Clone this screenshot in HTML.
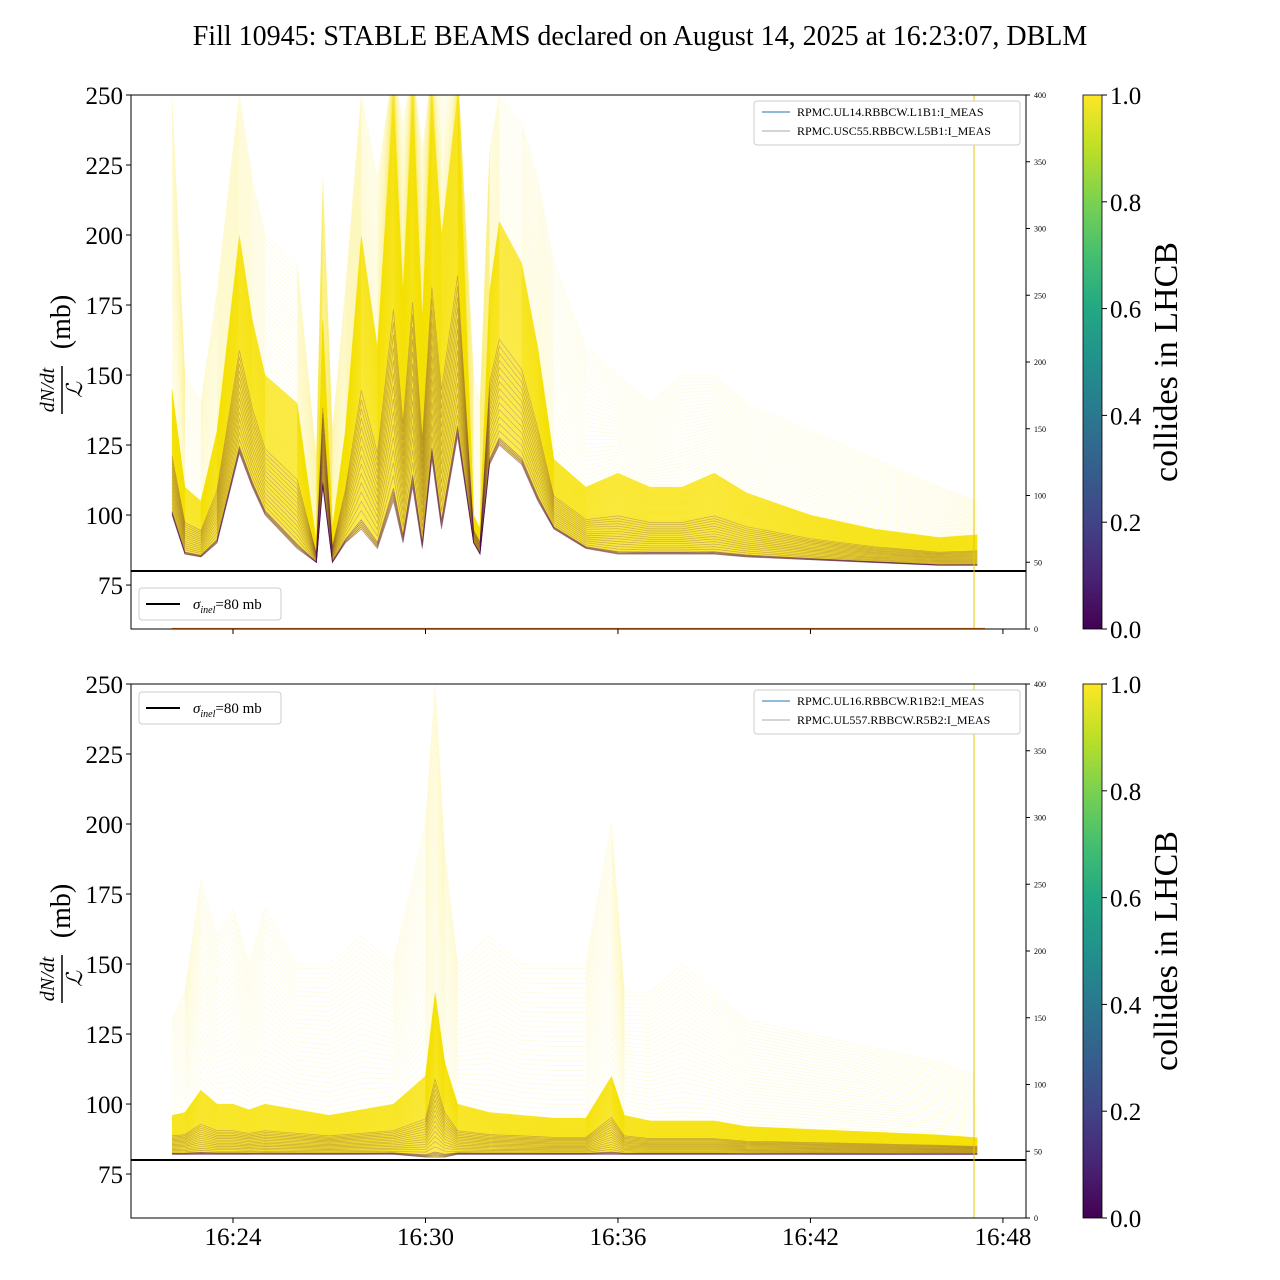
<!DOCTYPE html>
<html><head><meta charset="utf-8">
<style>
html,body{margin:0;padding:0;background:#fff;}
svg{display:block;font-family:"Liberation Serif",serif;}
</style></head>
<body>
<svg id="chart" width="1280" height="1280" viewBox="0 0 1280 1280">
  <defs>
    <linearGradient id="viridis" x1="0" y1="1" x2="0" y2="0">
      <stop offset="0" stop-color="#440154"/><stop offset="0.1" stop-color="#482475"/>
      <stop offset="0.2" stop-color="#414487"/><stop offset="0.3" stop-color="#355f8d"/>
      <stop offset="0.4" stop-color="#2a788e"/><stop offset="0.5" stop-color="#21918c"/>
      <stop offset="0.6" stop-color="#22a884"/><stop offset="0.7" stop-color="#44bf70"/>
      <stop offset="0.8" stop-color="#7ad151"/><stop offset="0.9" stop-color="#bddf26"/>
      <stop offset="1" stop-color="#fde725"/>
    </linearGradient>
    <clipPath id="clipTop"><rect x="131" y="95" width="895" height="534"/></clipPath>
    <clipPath id="clipBot"><rect x="131" y="684" width="895" height="533"/></clipPath>
  </defs>
  <text x="640" y="45" font-size="28" text-anchor="middle">Fill 10945: STABLE BEAMS declared on August 14, 2025 at 16:23:07, DBLM</text>
  <g id="panels"></g>
</svg>
<script>
// ---- data (minutes after 16:22:00) ----
const topTimes = [0.1,0.5,1.0,1.5,2.2,2.6,3.0,4.0,4.6,4.8,5.1,5.5,6.0,6.5,7.0,7.3,7.6,7.9,8.2,8.5,9.0,9.5,9.7,10.0,10.3,11.0,11.5,12.0,13.0,14.0,15.0,16.0,17.0,18.0,20.0,22.0,24.0,25.2];
const topLow   = [100,86,85,90,122,110,100,88,83,110,83,90,95,88,105,90,110,88,120,95,128,90,86,118,125,118,105,95,88,86,86,86,86,85,84,83,82,82];
const topMid   = [145,110,105,130,200,170,150,140,90,170,95,130,200,160,250,180,250,170,250,200,250,100,95,180,205,190,160,120,110,115,110,110,115,108,100,95,92,93];
const topHigh  = [250,150,140,180,250,220,200,190,120,220,130,180,250,220,260,240,260,230,260,250,260,150,140,230,250,240,220,190,160,150,140,150,150,140,130,120,110,105];

const botTimes = [0.1,0.5,1.0,1.5,2.0,2.5,3.0,4.0,5.0,6.0,7.0,8.0,8.3,8.6,9.0,10.0,11.0,12.0,13.0,13.8,14.2,15.0,16.0,17.0,18.0,20.0,22.0,24.0,25.2];
const botLow   = [82,82,82,82,82,82,82,82,82,82,82,81,81,81,82,82,82,82,82,82,82,82,82,82,82,82,82,82,82];
const botMid   = [96,97,105,100,100,98,100,98,96,98,100,110,140,115,100,97,96,95,95,110,96,94,94,94,92,91,90,89,88];
const botHigh  = [130,140,180,160,170,150,170,150,150,160,150,200,250,190,150,160,150,150,150,200,140,140,150,140,130,125,120,115,110];

const yTicks = [75,100,125,150,175,200,225,250];
const rTicks = [0,50,100,150,200,250,300,350,400];
const xTickLabels = ["16:24","16:30","16:36","16:42","16:48"];
const xTickMins = [2,8,14,20,26];
const cbTicks = [0.0,0.2,0.4,0.6,0.8,1.0];

const NS="http://www.w3.org/2000/svg";
const root=document.getElementById('panels');
function mk(tag,attrs,parent){const e=document.createElementNS(NS,tag);for(const k in attrs)e.setAttribute(k,attrs[k]);(parent||root).appendChild(e);return e;}

const X0=131,X1=1026;
function xs(t){return 233+(t-2)*32.08;}

function panel(top,times,low,mid,high,legendLabels,sigmaLegendTop,clipId,idx){
  const bottom=top+534;
  const ymin=59.3,ymax=250;
  const ys=v=>top+(ymax-Math.min(v,265))/(ymax-ymin)*534;
  const g=mk('g',{});
  
  
  const plot=mk('g',{'clip-path':'url(#'+clipId+')'},g);
  let pts=times.map((t,i)=>xs(t)+','+ys(mid[i])).join(' ')+' '+times.slice().reverse().map((t,j)=>{const i=times.length-1-j;return xs(t)+','+ys(low[i]);}).join(' ');
  const band=mk('polygon',{points:pts,fill:'#fde725','fill-opacity':0.7},plot);
  
  
  const N=160;
  const lines=[];
  for(let k=0;k<N;k++){
    const f=k/(N-1);
    const p=times.map((t,i)=>{
      const v=f<0.8?low[i]+(mid[i]-low[i])*(f/0.8):mid[i]+(high[i]-mid[i])*((f-0.8)/0.2);
      return xs(t).toFixed(1)+','+ys(v).toFixed(1);}).join(' ');
    lines.push({k,f,p,dark:(f<0.4&&k%4===0)||f<0.03});
  }
  lines.filter(l=>!l.dark).forEach(l=>{
    const pl=mk('polyline',{points:l.p,fill:'none',stroke:'#f5e000','stroke-width':0.7,'stroke-opacity':l.f>0.8?0.14:0.4},plot);
    
    
  });
  lines.filter(l=>l.dark).forEach(l=>{
    const pl=mk('polyline',{points:l.p,fill:'none',stroke:'#440154','stroke-width':0.7,'stroke-opacity':l.f<0.03?0.45:0.28},plot);
    
    
  });
  const sl=mk('line',{x1:X0,x2:X1,y1:ys(80),y2:ys(80),stroke:'#000','stroke-width':2},g);
  
  
  const vl=mk('line',{x1:974,x2:974,y1:top,y2:bottom,stroke:'#e8c800','stroke-width':1},g);
  
  
  if(idx===1){const ol=mk('line',{x1:172,x2:985,y1:bottom-0.5,y2:bottom-0.5,stroke:'#ff7f0e','stroke-width':1.2},g);
    
    }
  const fr=mk('rect',{x:X0,y:top,width:X1-X0,height:534,fill:'none',stroke:'#000','stroke-width':1},g);
  
  
  yTicks.forEach(v=>{
    mk('line',{x1:X0-5,x2:X0,y1:ys(v),y2:ys(v),stroke:'#000'},g);
    const t=mk('text',{x:X0-8,y:ys(v)+9,'font-size':25,'text-anchor':'end'},g);
    t.textContent=v;
    
    
  });
  rTicks.forEach(v=>{
    const y=bottom-v/400*534;
    mk('line',{x1:X1,x2:X1+4,y1:y,y2:y,stroke:'#000'},g);
    const t=mk('text',{x:X1+8,y:y+3,'font-size':8},g);
    t.textContent=v;
    
    
  });
  xTickMins.forEach((m,i)=>{
    mk('line',{x1:xs(m),x2:xs(m),y1:bottom,y2:bottom+5,stroke:'#000'},g);
    if(idx===2){const t=mk('text',{x:xs(m),y:bottom+27,'font-size':25,'text-anchor':'middle'},g);
      t.textContent=xTickLabels[i];
      
      }
  });
  const yl=mk('g',{transform:'translate(62,'+(top+267)+') rotate(-90)'},g);
  
  
  const a=mk('text',{x:-28,y:-8,'font-size':20,'text-anchor':'middle','font-style':'italic'},yl);a.textContent='dN/dt';
  mk('line',{x1:-52,x2:-4,y1:0,y2:0,stroke:'#000','stroke-width':1.5},yl);
  const b=mk('text',{x:-28,y:20,'font-size':22,'text-anchor':'middle','font-style':'italic'},yl);b.textContent='ℒ';
  const c=mk('text',{x:40,y:8,'font-size':28,'text-anchor':'middle'},yl);c.textContent='(mb)';
  const lg=mk('g',{},g);
  
  
  mk('rect',{x:754,y:top+6,width:266,height:44,rx:3,fill:'#fff',stroke:'#ccc'},lg);
  mk('line',{x1:762,x2:790,y1:top+17,y2:top+17,stroke:'#1f77b4'},lg);
  mk('line',{x1:762,x2:790,y1:top+36,y2:top+36,stroke:'#aaa'},lg);
  const l1=mk('text',{x:797,y:top+21,'font-size':12},lg);l1.textContent=legendLabels[0];
  const l2=mk('text',{x:797,y:top+40,'font-size':12},lg);l2.textContent=legendLabels[1];
  const sg=mk('g',{},g);
  
  
  const ly=sigmaLegendTop;
  mk('rect',{x:139,y:ly,width:142,height:32,rx:3,fill:'#fff',stroke:'#ccc'},sg);
  mk('line',{x1:146,x2:180,y1:ly+16,y2:ly+16,stroke:'#000','stroke-width':2},sg);
  const st=mk('text',{x:193,y:ly+21,'font-size':15},sg);
  st.innerHTML='<tspan font-style="italic">σ</tspan><tspan font-size="10" dy="4" font-style="italic">inel</tspan><tspan dy="-4">=80 mb</tspan>';
  const cb=mk('g',{},g);
  
  
  mk('rect',{x:1083,y:top,width:19,height:534,fill:'url(#viridis)',stroke:'#000','stroke-width':0.8},cb);
  cbTicks.forEach(v=>{
    const y=bottom-v*534;
    mk('line',{x1:1102,x2:1107,y1:y,y2:y,stroke:'#000'},cb);
    const t=mk('text',{x:1110,y:y+9,'font-size':25},cb);t.textContent=v.toFixed(1);
  });
  const ct=mk('text',{x:0,y:0,'font-size':34,'text-anchor':'middle',transform:'translate(1177,'+(top+267)+') rotate(-90)'},cb);
  ct.textContent='collides in LHCB';
}
panel(95,topTimes,topLow,topMid,topHigh,['RPMC.UL14.RBBCW.L1B1:I_MEAS','RPMC.USC55.RBBCW.L5B1:I_MEAS'],588,'clipTop',1);
panel(684,botTimes,botLow,botMid,botHigh,['RPMC.UL16.RBBCW.R1B2:I_MEAS','RPMC.UL557.RBBCW.R5B2:I_MEAS'],692,'clipBot',2);
</script>
</body></html>
